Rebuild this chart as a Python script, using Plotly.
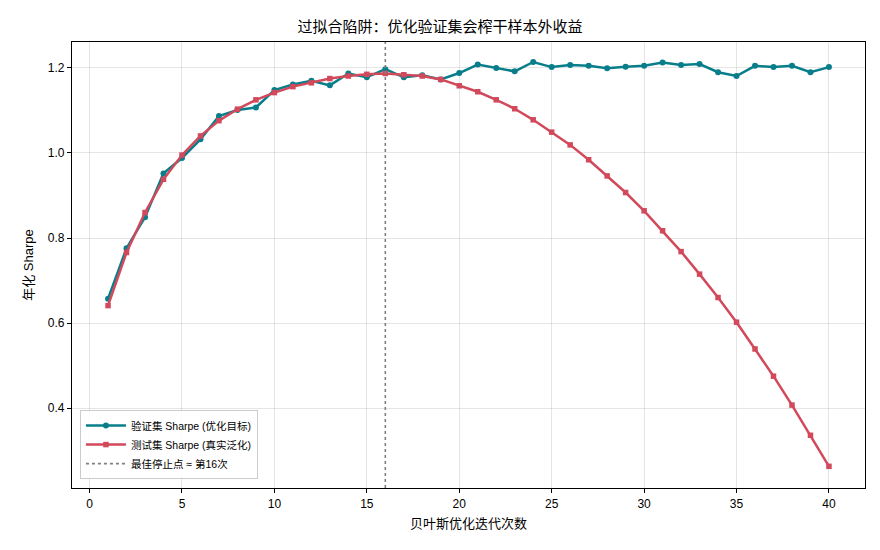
import plotly.graph_objects as go

iterations = list(range(1, 41))
val_sharpe = [0.657, 0.776, 0.849, 0.952, 0.988, 1.032, 1.087, 1.101, 1.107, 1.148,
              1.161, 1.170, 1.159, 1.187, 1.178, 1.197, 1.178, 1.183, 1.173, 1.188,
              1.208, 1.200, 1.192, 1.214, 1.202, 1.207, 1.205, 1.199, 1.203, 1.205,
              1.213, 1.207, 1.209, 1.190, 1.181, 1.205, 1.202, 1.205, 1.190, 1.202]
test_sharpe = [0.641, 0.766, 0.860, 0.938, 0.995, 1.040, 1.076, 1.103, 1.125, 1.142,
               1.156, 1.165, 1.175, 1.181, 1.185, 1.187, 1.184, 1.181, 1.173, 1.158,
               1.144, 1.125, 1.104, 1.078, 1.049, 1.019, 0.984, 0.946, 0.907, 0.864,
               0.817, 0.768, 0.715, 0.660, 0.602, 0.539, 0.475, 0.407, 0.336, 0.263]
best_stop = 16

x_ticks = [0, 5, 10, 15, 20, 25, 30, 35, 40]
y_ticks = [0.4, 0.6, 0.8, 1.0, 1.2]

TEAL = "#087E8B"
RED = "#D1495B"
FONT = "Liberation Sans, Noto Sans CJK SC, sans-serif"

fig = go.Figure()
fig.add_trace(go.Scatter(
    x=iterations, y=val_sharpe, mode="lines+markers",
    name="验证集 Sharpe (优化目标)",
    line=dict(color=TEAL, width=2.5),
    marker=dict(symbol="circle", size=6, color=TEAL),
))
fig.add_trace(go.Scatter(
    x=iterations, y=test_sharpe, mode="lines+markers",
    name="测试集 Sharpe (真实泛化)",
    line=dict(color=RED, width=2.5),
    marker=dict(symbol="square", size=5.5, color=RED),
))
fig.add_trace(go.Scatter(
    x=[best_stop, best_stop], y=[0.212, 1.261], mode="lines",
    name="最佳停止点 ≈ 第16次",
    line=dict(color="gray", width=1.6, dash="dot"),
))

fig.update_layout(
    width=880, height=550,
    margin=dict(l=72, r=15, t=42, b=62),
    paper_bgcolor="white", plot_bgcolor="white",
    font=dict(family=FONT, size=12, color="black"),
    title=dict(text="过拟合陷阱：优化验证集会榨干样本外收益",
               x=0.5, xanchor="center", y=0.952, yanchor="middle",
               font=dict(size=15, family=FONT)),
    legend=dict(x=0.01, y=0.02, xanchor="left", yanchor="bottom",
                bgcolor="rgba(255,255,255,0.85)", bordercolor="#cccccc", borderwidth=1,
                font=dict(size=10.5, family=FONT), tracegroupgap=0, itemwidth=40),
    showlegend=True,
)
fig.update_xaxes(
    range=[-0.95, 41.95], tickvals=x_ticks,
    title=dict(text="贝叶斯优化迭代次数", font=dict(size=13), standoff=9),
    showline=True, linecolor="black", linewidth=1.2, mirror=True,
    ticks="outside", ticklen=4, tickcolor="black",
    showgrid=True, gridcolor="rgba(0,0,0,0.1)", gridwidth=1, zeroline=False,
    tickfont=dict(size=12),
)
fig.update_yaxes(
    range=[0.212, 1.261], tickvals=y_ticks, ticktext=["0.4", "0.6", "0.8", "1.0", "1.2"],
    title=dict(text="年化 Sharpe", font=dict(size=13), standoff=11),
    showline=True, linecolor="black", linewidth=1.2, mirror=True,
    ticks="outside", ticklen=4, tickcolor="black",
    showgrid=True, gridcolor="rgba(0,0,0,0.1)", gridwidth=1, zeroline=False,
    tickfont=dict(size=12),
)

fig.write_html("out.html")
